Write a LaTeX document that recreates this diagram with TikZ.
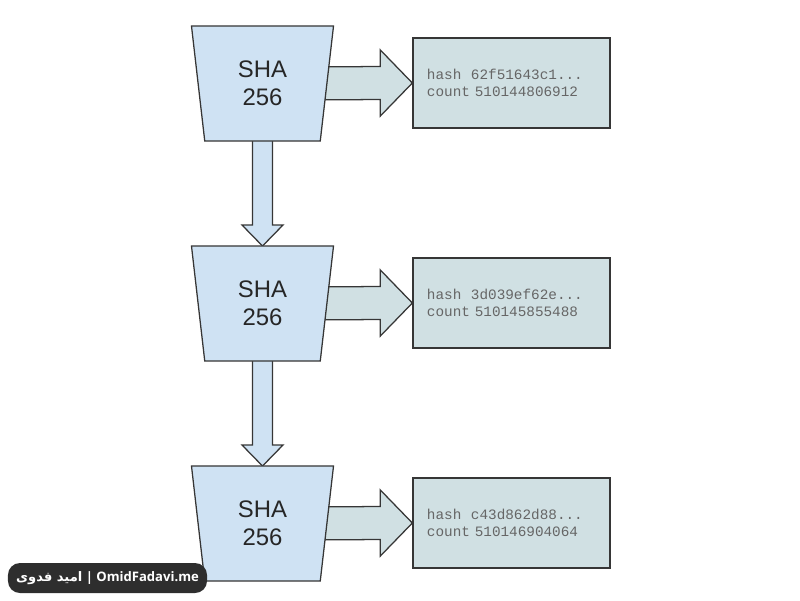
\documentclass[tikz,border=0pt]{standalone}
\usepackage{fontspec}
\setmainfont{Liberation Sans}
\setmonofont{Liberation Mono}
\newfontfamily\tagfont{Open Sans}
\newfontfamily\arabicfont[Script=Arabic]{DejaVu Sans}
\TeXXeTstate=1
\usetikzlibrary{shapes.geometric,calc,backgrounds}
\definecolor{shaFill}{HTML}{CFE2F3}
\definecolor{hashFill}{HTML}{D0E0E3}
\definecolor{diagInk}{HTML}{363636}
\definecolor{hashText}{HTML}{666666}
\definecolor{tagBg}{HTML}{2E2E2E}

\begin{document}
\begin{tikzpicture}[
  x=0.025cm,y=-0.025cm,
  sha/.style={draw=diagInk,line width=0.9pt,fill=shaFill,trapezium,shape border rotate=180,
    trapezium angle=76.3,trapezium stretches body,minimum width=3.55cm,minimum height=2.875cm,
    align=center,text=black!85,font=\fontsize{17}{20}\selectfont},
  hashbox/.style={draw=diagInk,line width=0.9pt,fill=hashFill,minimum width=4.925cm,minimum height=2.25cm,
    inner sep=0.35cm,text width=4.225cm,align=left,text=hashText,font=\fontsize{10.2}{12.1}\ttfamily},
  harr/.style={draw=diagInk,line width=0.9pt,fill=hashFill},
  varr/.style={draw=diagInk,line width=0.9pt,fill=shaFill}
]
\useasboundingbox (0,0) rectangle (800,600);
\node[sha] (sha1) at (262.5,83.5)  {SHA\\256};
\node[sha] (sha2) at (262.5,303.5) {SHA\\256};
\node[sha] (sha3) at (262.5,523.5) {SHA\\256};
\node[hashbox] (hash1) at (511.5,83)  {hash\ \ 62f51643c1...\\count 510144806912};
\node[hashbox] (hash2) at (511.5,303) {hash\ \ 3d039ef62e...\\count 510145855488};
\node[hashbox] (hash3) at (511.5,523) {hash\ \ c43d862d88...\\count 510146904064};
% block arrows behind the trapezia
\begin{scope}[on background layer]
\draw[harr] ($(sha1.center)+(40,-16.5)$) -- ($(hash1.west)+(-32,-16.5)$) -- ($(hash1.west)+(-32,-33)$) -- (hash1.west)
  -- ($(hash1.west)+(-32,33)$) -- ($(hash1.west)+(-32,16.5)$) -- ($(sha1.center)+(40,16.5)$) -- cycle;
\draw[harr] ($(sha2.center)+(40,-16.5)$) -- ($(hash2.west)+(-32,-16.5)$) -- ($(hash2.west)+(-32,-33)$) -- (hash2.west)
  -- ($(hash2.west)+(-32,33)$) -- ($(hash2.west)+(-32,16.5)$) -- ($(sha2.center)+(40,16.5)$) -- cycle;
\draw[harr] ($(sha3.center)+(40,-16.5)$) -- ($(hash3.west)+(-32,-16.5)$) -- ($(hash3.west)+(-32,-33)$) -- (hash3.west)
  -- ($(hash3.west)+(-32,33)$) -- ($(hash3.west)+(-32,16.5)$) -- ($(sha3.center)+(40,16.5)$) -- cycle;
\draw[varr] ($(sha1.center)+(-10,50)$) -- ($(sha2.center)+(-10,-78.5)$) -- ($(sha2.center)+(-20.5,-78.5)$) -- ($(sha2.center)+(0,-57.5)$)
  -- ($(sha2.center)+(20.5,-78.5)$) -- ($(sha2.center)+(10,-78.5)$) -- ($(sha1.center)+(10,50)$) -- cycle;
\draw[varr] ($(sha2.center)+(-10,50)$) -- ($(sha3.center)+(-10,-78.5)$) -- ($(sha3.center)+(-20.5,-78.5)$) -- ($(sha3.center)+(0,-57.5)$)
  -- ($(sha3.center)+(20.5,-78.5)$) -- ($(sha3.center)+(10,-78.5)$) -- ($(sha2.center)+(10,50)$) -- cycle;
\end{scope}
\node[fill=tagBg,rounded corners=0.3cm,minimum width=4.975cm,minimum height=0.75cm,text=white,
  font=\fontsize{9.3}{11}\tagfont\bfseries] (tag) at (107.5,578)
  {{\arabicfont\bfseries\beginR امید فدوی\endR} | OmidFadavi.me};
\end{tikzpicture}
\end{document}
